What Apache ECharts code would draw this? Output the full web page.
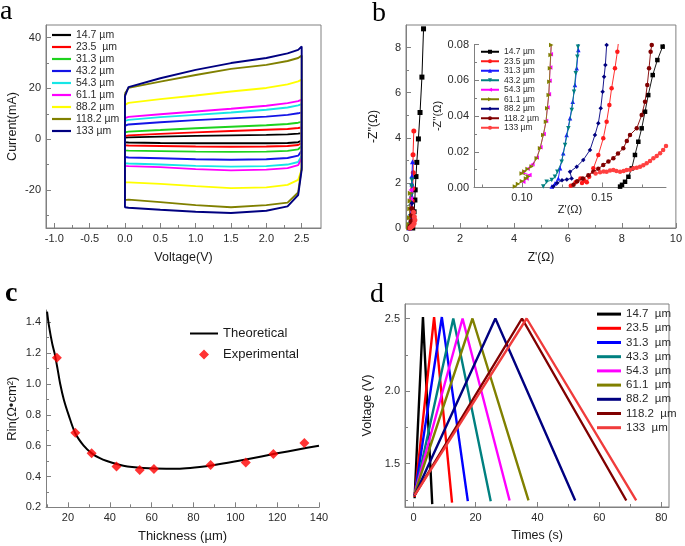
<!DOCTYPE html>
<html><head><meta charset="utf-8">
<script src="https://cdn.jsdelivr.net/npm/echarts@6/dist/echarts.min.js"></script>
<style>html,body{margin:0;padding:0;background:#fff}#c{width:685px;height:546px}</style>
</head><body><div id="c"></div>
<script>
// ---------- Panel a: CV curves ----------
const cvNames = ['14.7 µm','23.5  µm','31.3 µm','43.2 µm','54.3 µm','61.1 µm','88.2 µm','118.2 µm','133 µm'];
const cvColors = ['#000000','#ff0000','#1ed21e','#1414e6','#16e6e6','#ff00ff','#ffff00','#808000','#000080'];
const cvVoltage = [0, 0.05, 0.5, 1.0, 1.5, 2.0, 2.3, 2.45, 2.5];
const cvUpper = [
  [0.6, 0.7, 1.0, 1.3, 1.5, 1.7, 1.9, 2.2, 2.4],
  [1.2, 1.5, 2.1, 2.7, 3.2, 3.7, 4.0, 4.4, 4.6],
  [2.7, 3.0, 3.6, 4.3, 4.9, 5.5, 6.0, 6.5, 6.8],
  [5.3, 5.8, 6.7, 7.5, 8.2, 8.9, 9.6, 10.2, 10.6],
  [7.2, 7.6, 8.7, 9.6, 10.5, 11.6, 12.5, 13.3, 13.8],
  [8.3, 8.8, 9.8, 10.9, 12.0, 13.2, 14.2, 15.0, 15.6],
  [13.5, 14.3, 15.8, 17.2, 18.8, 20.2, 21.6, 22.8, 23.5],
  [18.0, 20.2, 22.7, 25.3, 27.7, 29.3, 30.8, 32.0, 33.0],
  [17.0, 20.5, 24.0, 27.3, 30.0, 32.0, 33.8, 35.2, 36.5]
];
const cvLower = [
  [-1.2, -1.3, -1.5, -1.6, -1.6, -1.6, -1.5, -1.2, -0.6],
  [-2.4, -2.5, -2.7, -2.9, -3.0, -2.9, -2.7, -2.3, -1.5],
  [-4.4, -4.5, -4.7, -4.9, -5.0, -4.9, -4.6, -4.0, -2.8],
  [-7.0, -7.2, -7.5, -7.9, -8.1, -7.9, -7.4, -6.5, -4.5],
  [-9.5, -9.6, -10.0, -10.5, -10.8, -10.6, -10.0, -9.0, -6.5],
  [-10.5, -10.6, -11.0, -11.8, -12.3, -12.0, -11.4, -10.2, -7.5],
  [-17.0, -17.0, -17.6, -18.5, -19.3, -19.0, -18.0, -16.0, -12.0],
  [-24.0, -23.8, -24.8, -26.0, -26.8, -26.0, -25.0, -21.0, -11.0],
  [-26.8, -27.0, -27.8, -28.6, -29.1, -28.2, -26.5, -22.0, -12.0]
];
const aXTicks = [-1, -0.5, 0, 0.5, 1, 1.5, 2, 2.5];
const aXMinor = [-0.75, -0.25, 0.25, 0.75, 1.25, 1.75, 2.25];
const aYTicks = [-20, 0, 20, 40];
const aYMinor = [-30, -10, 10, 30];

// ---------- Panel b: Nyquist ----------
const eisNames = ['14.7 µm','23.5 µm','31.3 µm','43.2 µm','54.3 µm','61.1 µm','88.2 µm','118.2 µm','133 µm'];
const eisColors = ['#000000','#ff1a1a','#1a1aff','#008080','#ff00ff','#808000','#000080','#800000','#ff4040'];
const eisSymbols = ['rect','circle','triangle','triangle','triangle','triangle','diamond','circle','circle'];
const eisRotate = [0, 0, 0, 180, 90, -90, 0, 0, 0];
const eisMain = [
  [[0.25,0.0],[0.28,0.28],[0.30,0.72],[0.33,1.24],[0.34,1.69],[0.37,2.28],[0.40,2.91],[0.46,3.95],[0.52,5.12],[0.59,6.69],[0.65,8.83]],
  [[0.13,0.0],[0.16,0.1],[0.19,0.35],[0.21,0.75],[0.23,1.2],[0.25,1.75],[0.27,2.45],[0.26,3.25],[0.29,4.3]],
  [[0.12,0.0],[0.15,0.15],[0.17,0.5],[0.19,0.95],[0.20,1.45],[0.22,1.95],[0.22,2.3],[0.24,2.94]],
  [[0.11,0.0],[0.14,0.15],[0.16,0.5],[0.18,0.95],[0.20,1.45],[0.21,1.85],[0.22,2.13]],
  [[0.10,0.0],[0.12,0.15],[0.14,0.5],[0.16,0.9],[0.17,1.3],[0.18,1.69]],
  [[0.10,0.0],[0.11,0.15],[0.13,0.45],[0.14,0.85],[0.15,1.2],[0.16,1.54]],
  [[0.12,0.0],[0.15,0.1],[0.18,0.3],[0.20,0.6],[0.21,0.85],[0.22,1.1]],
  [[0.13,0.0],[0.17,0.1],[0.20,0.3],[0.21,0.55],[0.22,0.87]],
  [[0.15,0.0],[0.20,0.05],[0.25,0.1],[0.30,0.2],[0.33,0.35],[0.31,0.5],[0.28,0.7]]
];
const eisInset = [
  [[0.1613,0.0005],[0.1625,0.0015],[0.1644,0.0032],[0.1665,0.006],[0.1686,0.0107],[0.1706,0.0182],[0.1727,0.0256],[0.1748,0.0331],[0.1769,0.0424],[0.1789,0.0517],[0.1817,0.0629],[0.1846,0.0713],[0.1879,0.0788],[0.1895,0.083]],
  [[0.1305,0.001],[0.1335,0.003],[0.1365,0.005],[0.139,0.004],[0.1375,0.0025],[0.1405,0.003],[0.142,0.006],[0.1446,0.0107],[0.1477,0.0182],[0.1508,0.0275],[0.1529,0.0368],[0.1546,0.0462],[0.156,0.0555],[0.1581,0.0667],[0.1596,0.076],[0.1605,0.083]],
  [[0.1186,0.0005],[0.1206,0.0023],[0.1227,0.0051],[0.1238,0.0107],[0.1258,0.0191],[0.1279,0.0294],[0.130,0.0387],[0.1317,0.048],[0.1331,0.0573],[0.1342,0.0667],[0.1352,0.0769],[0.1356,0.083]],
  [[0.1133,0.0005],[0.1154,0.0032],[0.1186,0.0042],[0.1206,0.006],[0.1221,0.0088],[0.1248,0.0144],[0.1269,0.0238],[0.129,0.0331],[0.1311,0.0434],[0.1325,0.0536],[0.1336,0.0639],[0.1346,0.0732],[0.135,0.0788],[0.1352,0.083]],
  [[0.1008,0.0032],[0.1028,0.005],[0.1046,0.007],[0.1005,0.0085],[0.1035,0.0105],[0.1065,0.013],[0.1092,0.0168],[0.1115,0.0225],[0.1135,0.03],[0.115,0.0372],[0.1159,0.0447],[0.1168,0.0522],[0.1172,0.0597],[0.1176,0.0672],[0.118,0.0745],[0.1184,0.083]],
  [[0.0956,0.0005],[0.0975,0.002],[0.100,0.0035],[0.1025,0.005],[0.104,0.0062],[0.0998,0.0079],[0.1015,0.009],[0.1035,0.0103],[0.106,0.0117],[0.1092,0.0163],[0.1113,0.0219],[0.1133,0.0294],[0.115,0.0368],[0.1158,0.0443],[0.1167,0.0517],[0.1171,0.0592],[0.1175,0.0667],[0.1179,0.0741],[0.1183,0.0797]],
  [[0.1195,0.0005],[0.122,0.0025],[0.125,0.004],[0.128,0.0045],[0.131,0.0051],[0.13,0.0088],[0.1342,0.0116],[0.1383,0.0154],[0.1425,0.021],[0.1456,0.0294],[0.1477,0.0359],[0.1492,0.0443],[0.1504,0.0536],[0.1513,0.062],[0.1521,0.0685],[0.1529,0.0797],[0.1532,0.083]],
  [[0.1322,0.0015],[0.1345,0.0035],[0.138,0.005],[0.1415,0.0068],[0.1446,0.0088],[0.1477,0.0105],[0.1508,0.0126],[0.154,0.0145],[0.1571,0.0163],[0.160,0.019],[0.1633,0.0219],[0.1655,0.026],[0.1675,0.0294],[0.1717,0.0331],[0.1748,0.0405],[0.1769,0.048],[0.1783,0.0573],[0.1794,0.0667],[0.1804,0.076],[0.1811,0.0797],[0.1814,0.083]],
  [[0.146,0.0078],[0.1488,0.0085],[0.151,0.009],[0.1529,0.0088],[0.155,0.0095],[0.1571,0.0098],[0.159,0.0092],[0.1613,0.0088],[0.1635,0.0093],[0.1654,0.0098],[0.1675,0.010],[0.1696,0.0107],[0.1717,0.011],[0.1738,0.0116],[0.1758,0.0125],[0.1779,0.0135],[0.180,0.0148],[0.1821,0.0163],[0.1842,0.0176],[0.1863,0.0191],[0.1882,0.021],[0.190,0.0232]]
];
const bXTicks = [0, 2, 4, 6, 8, 10];
const bXMinor = [1, 3, 5, 7, 9];
const bYTicks = [0, 2, 4, 6, 8];
const bYMinor = [1, 3, 5, 7];
const insXTicks = [0.10, 0.15];
const insXMinor = [0.075, 0.125, 0.175];
const insYTicks = [0, 0.02, 0.04, 0.06, 0.08];
const insYMinor = [0.01, 0.03, 0.05, 0.07];

// ---------- Panel c: Rin vs thickness ----------
const theoThickness = [10, 11, 12.5, 13.6, 15, 16.3, 18, 20.3, 23.5, 27.5, 31.4, 35, 38.6, 46.5, 56, 67, 75, 83, 90, 99, 105, 120, 130, 140];
const theoRin = [1.47, 1.37, 1.26, 1.2, 1.1, 1.0, 0.9, 0.8, 0.68, 0.6, 0.55, 0.52, 0.5, 0.47, 0.455, 0.45, 0.452, 0.462, 0.475, 0.495, 0.51, 0.55, 0.575, 0.6];
const expThickness = [14.7, 23.5, 31.3, 43.2, 54.3, 61.1, 88.2, 105, 118.2, 133];
const expRin = [1.17, 0.684, 0.55, 0.464, 0.442, 0.449, 0.475, 0.49, 0.546, 0.617];
const cXTicks = [20, 40, 60, 80, 100, 120, 140];
const cXMinor = [10, 30, 50, 70, 90, 110, 130];
const cYTicks = [0.2, 0.4, 0.6, 0.8, 1.0, 1.2, 1.4];
const cYMinor = [0.3, 0.5, 0.7, 0.9, 1.1, 1.3];

// ---------- Panel d: GCD ----------
const gcdNames = ['14.7  µm','23.5  µm','31.3  µm','43.3  µm','54.3  µm','61.1  µm','88.2  µm','118.2  µm','133  µm'];
const gcdColors = ['#000000','#ff0000','#0000ff','#008080','#ff00ff','#808000','#000080','#800000','#f03c3c'];
const gcdStartT = [0.3, 0.3, 0.3, 0.3, 0.3, 0.3, 0.3, 0.3, 0.3];
const gcdStartV = [1.26, 1.27, 1.28, 1.28, 1.29, 1.29, 1.28, 1.28, 1.28];
const gcdPeakT = [3.0, 6.6, 9.1, 12.8, 15.8, 19.0, 26.4, 35.0, 36.5];
const gcdPeakV = [2.51, 2.51, 2.51, 2.5, 2.5, 2.5, 2.5, 2.5, 2.5];
const gcdEndT = [6.0, 12.4, 17.5, 24.9, 31.0, 37.1, 52.2, 68.7, 71.9];
const gcdEndV = [1.22, 1.23, 1.24, 1.24, 1.245, 1.245, 1.245, 1.245, 1.245];
const dXTicks = [0, 20, 40, 60, 80];
const dXMinor = [10, 30, 50, 70];
const dYTicks = [1.5, 2.0, 2.5];
const dYMinor = [1.25, 1.75, 2.25];

// ---------- build ----------
const FONT = 'Arial, "Liberation Sans", sans-serif';
const AXC = '#808080';
const LBL = '#2a2a2a';
const xAxes = [], yAxes = [];
function addAxis(list, dim, gi, o) {
  const isX = dim === 'x';
  const pos = isX ? 'bottom' : 'left';
  const idx = list.length;
  list.push({
    type: 'value', gridIndex: gi, min: o.min, max: o.max, position: pos,
    axisLine: {show: true, onZero: false, lineStyle: {color: AXC, width: 1}},
    axisTick: {show: true, inside: true, length: 5, customValues: o.major, lineStyle: {color: AXC}},
    axisLabel: {show: true, customValues: o.major, formatter: o.fmt, fontSize: o.fs || 11, color: LBL,
      fontFamily: FONT, margin: o.margin || 5, hideOverlap: false},
    splitLine: {show: false},
    name: o.name, nameLocation: 'middle', nameGap: o.gap,
    nameTextStyle: {fontSize: o.nfs || 12.5, color: '#1a1a1a', fontFamily: FONT}
  });
  list.push({
    type: 'value', gridIndex: gi, min: o.min, max: o.max, position: pos,
    axisLine: {show: false, onZero: false},
    axisTick: {show: true, inside: true, length: 3, customValues: o.minor, lineStyle: {color: AXC}},
    axisLabel: {show: false}, splitLine: {show: false}
  });
  return idx;
}
const f1 = v => v.toFixed(1), f0 = v => String(Math.round(v)), f2 = v => v.toFixed(2);

const grids = [
  {left: 46, top: 25, width: 275, height: 203, show: true, borderColor: AXC, borderWidth: 1},
  {left: 406, top: 25, width: 273, height: 203, show: true, borderColor: AXC, borderWidth: 1},
  {left: 474, top: 44.5, width: 192, height: 143},
  {left: 46, top: 310, width: 273, height: 197.3},
  {left: 405, top: 304, width: 264, height: 203, show: true, borderColor: AXC, borderWidth: 1}
];

const ax = {};
ax.ax = addAxis(xAxes, 'x', 0, {min: -1.117, max: 2.773, major: aXTicks, minor: aXMinor, fmt: f1, name: 'Voltage(V)', gap: 23});
ax.ay = addAxis(yAxes, 'y', 0, {min: -35, max: 45, major: aYTicks, minor: aYMinor, fmt: f0, name: 'Current(mA)', gap: 27});
ax.bx = addAxis(xAxes, 'x', 1, {min: 0, max: 10, major: bXTicks, minor: bXMinor, fmt: f0, name: "Z'(Ω)", gap: 24, nfs: 12});
ax.by = addAxis(yAxes, 'y', 1, {min: 0, max: 9, major: bYTicks, minor: bYMinor, fmt: f0, name: "-Z''(Ω)", gap: 26, nfs: 12});
ax.ix = addAxis(xAxes, 'x', 2, {min: 0.07, max: 0.19, major: insXTicks, minor: insXMinor, fmt: f2, name: "Z'(Ω)", gap: 15, nfs: 11});
ax.iy = addAxis(yAxes, 'y', 2, {min: 0, max: 0.08, major: insYTicks, minor: insYMinor, fmt: f2, name: "-Z''(Ω)", gap: 31, nfs: 11});
ax.cx = addAxis(xAxes, 'x', 3, {min: 9.5, max: 140, major: cXTicks, minor: cXMinor, fmt: f0, name: 'Thickness (µm)', gap: 23, nfs: 13});
ax.cy = addAxis(yAxes, 'y', 3, {min: 0.2, max: 1.48, major: cYTicks, minor: cYMinor, fmt: f1, name: 'Rin(Ω•cm²)', gap: 27, nfs: 13});
ax.dx = addAxis(xAxes, 'x', 4, {min: -2.8, max: 82.5, major: dXTicks, minor: dXMinor, fmt: f0, name: 'Times (s)', gap: 22});
ax.dy = addAxis(yAxes, 'y', 4, {min: 1.2, max: 2.6, major: dYTicks, minor: dYMinor, fmt: f1, name: 'Voltage (V)', gap: 31});

const series = [];
cvNames.forEach((n, i) => {
  const pts = cvVoltage.map((v, k) => [v, cvUpper[i][k]]);
  for (let k = cvVoltage.length - 1; k >= 0; k--) pts.push([cvVoltage[k], cvLower[i][k]]);
  pts.push([cvVoltage[0], cvUpper[i][0]]);
  series.push({type: 'line', name: 'a|' + n, xAxisIndex: ax.ax, yAxisIndex: ax.ay, data: pts,
    showSymbol: false, symbol: 'none', lineStyle: {color: cvColors[i], width: 1.9}, itemStyle: {color: cvColors[i]}, z: 2 + i});
});
eisNames.forEach((n, i) => {
  series.push({type: 'line', name: 'm|' + n, xAxisIndex: ax.bx, yAxisIndex: ax.by, data: eisMain[i],
    symbol: eisSymbols[i], symbolRotate: eisRotate[i], symbolSize: 5, showAllSymbol: true,
    lineStyle: {color: eisColors[i], width: 1}, itemStyle: {color: eisColors[i]}, z: 2 + i});
  series.push({type: 'line', name: 'b|' + n, xAxisIndex: ax.ix, yAxisIndex: ax.iy, data: eisInset[i],
    symbol: eisSymbols[i], symbolRotate: eisRotate[i], symbolSize: 4.5, showAllSymbol: true,
    lineStyle: {color: eisColors[i], width: 0.9}, itemStyle: {color: eisColors[i]}, z: 2 + i});
});
series.push({type: 'line', name: 'c|Theoretical', xAxisIndex: ax.cx, yAxisIndex: ax.cy,
  data: theoThickness.map((t, k) => [t, theoRin[k]]), showSymbol: false, smooth: 0.3,
  lineStyle: {color: '#000', width: 2}, itemStyle: {color: '#000'}});
series.push({type: 'scatter', name: 'c|Experimental', xAxisIndex: ax.cx, yAxisIndex: ax.cy,
  data: expThickness.map((t, k) => [t, expRin[k]]), symbol: 'diamond', symbolSize: 10,
  itemStyle: {color: '#ff0000'}, z: 5});
gcdNames.forEach((n, i) => {
  series.push({type: 'line', name: 'd|' + n, xAxisIndex: ax.dx, yAxisIndex: ax.dy,
    data: [[gcdStartT[i], gcdStartV[i]], [gcdPeakT[i], gcdPeakV[i]], [gcdEndT[i], gcdEndV[i]]],
    showSymbol: false, symbol: 'none', lineStyle: {color: gcdColors[i], width: 2.4}, itemStyle: {color: gcdColors[i]}, z: 2 + i});
});

const strip = n => n.split('|')[1];
const legends = [
  {left: 52, top: 29, orient: 'vertical', icon: 'rect', itemWidth: 19, itemHeight: 2.2, itemGap: 0,
    data: cvNames.map(n => 'a|' + n), textStyle: {fontSize: 10.5, lineHeight: 12, color: LBL, fontFamily: FONT}},
  {left: 480, top: 47, orient: 'vertical', itemWidth: 18, itemHeight: 5, itemGap: 0,
    data: eisNames.map(n => 'b|' + n), textStyle: {fontSize: 8.5, lineHeight: 9.5, color: LBL, fontFamily: FONT}},
  {left: 190, top: 327, orient: 'vertical', itemWidth: 28, itemHeight: 12, itemGap: 8,
    data: [{name: 'c|Theoretical', icon: 'path://M0,5L28,5L28,7L0,7Z'},
           {name: 'c|Experimental', icon: 'path://M0,6L0.01,6L0,6ZM14,1L19,6L14,11L9,6ZM28,6L27.99,6L28,6ZM14,0L14,0.01L14,0ZM14,12L14,11.99L14,12Z'}],
    textStyle: {fontSize: 13, lineHeight: 12, color: '#1a1a1a', fontFamily: FONT}},
  {left: 597, top: 307, orient: 'vertical', icon: 'rect', itemWidth: 24, itemHeight: 3, itemGap: 0,
    data: gcdNames.map(n => 'd|' + n), textStyle: {fontSize: 11.5, lineHeight: 14.2, color: LBL, fontFamily: FONT}}
].map(l => Object.assign(l, {selectedMode: false, padding: 0, formatter: strip}));

const serif = '"Liberation Serif", "DejaVu Serif", serif';
const labels = [['a', 0, 11.6, 'normal'], ['b', 372, 13.3, 'normal'], ['c', 5, 293.3, 'bold'], ['d', 370, 295, 'normal']];
const graphic = labels.map(([t, x, y, w]) => ({type: 'text', x: x, y: y,
  style: {text: t, font: w + ' 28px ' + serif, fill: '#000', verticalAlign: 'middle', align: 'left'}}));

const chart = echarts.init(document.getElementById('c'), null, {renderer: 'canvas'});
chart.setOption({
  animation: false, backgroundColor: '#fff',
  grid: grids, xAxis: xAxes, yAxis: yAxes, series: series, legend: legends, graphic: graphic
});
</script></body></html>
